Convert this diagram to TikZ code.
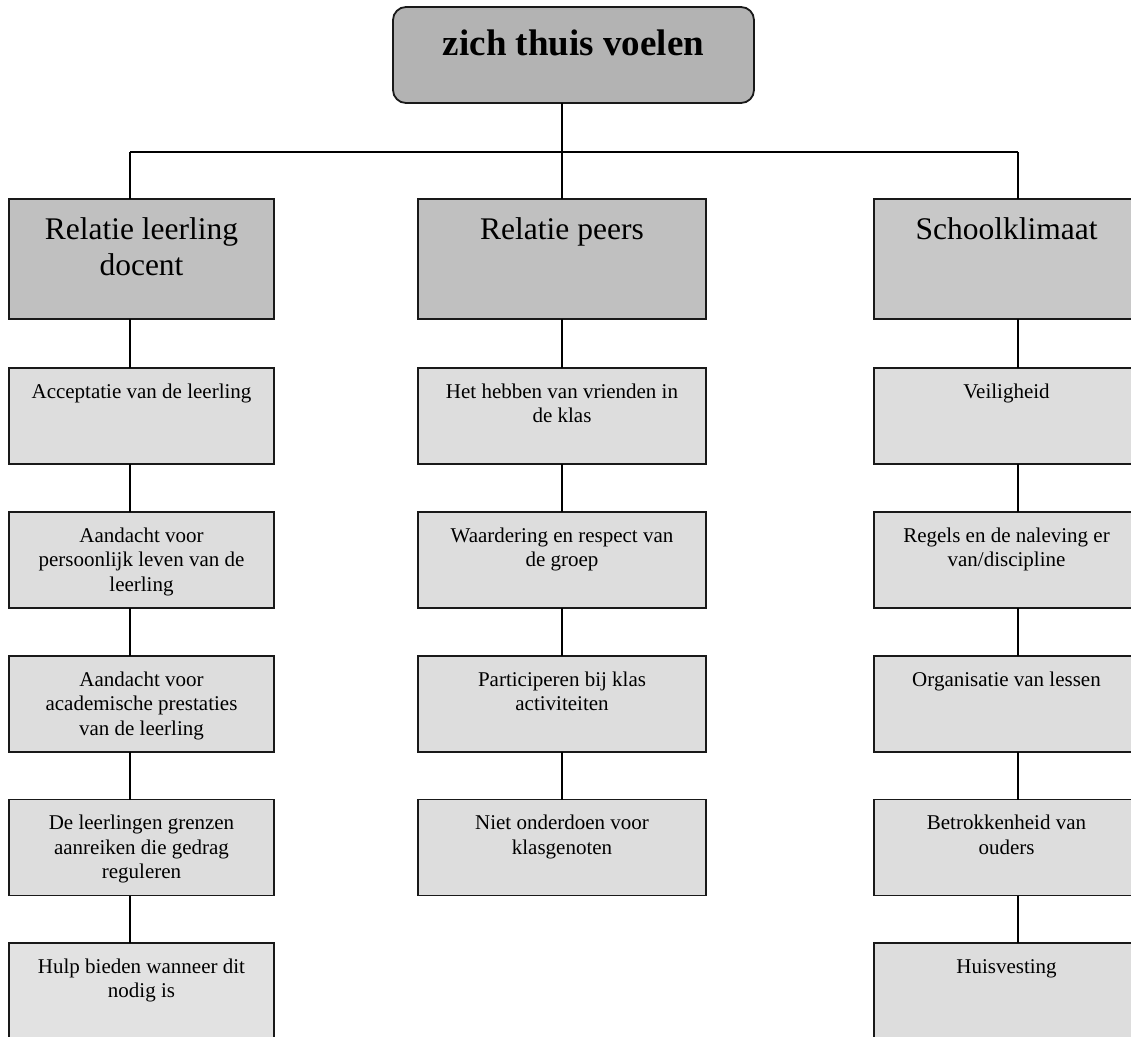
\documentclass[tikz,border=0pt]{standalone}
\usepackage{fontspec}
\setmainfont{Liberation Serif}
\definecolor{topgray}{HTML}{B3B3B3}
\definecolor{catgray}{HTML}{C0C0C0}
\definecolor{catgrayb}{HTML}{C8C8C8}
\definecolor{itemgray}{HTML}{DDDDDD}
\definecolor{itemgrayb}{HTML}{E2E2E2}
\begin{document}
\begin{tikzpicture}[x=1pt,y=-1pt,
  every node/.style={inner sep=0pt, outer sep=0pt},
  frame/.style={draw=black!90, line width=1.8pt},
  topbox/.style={frame, fill=topgray, rounded corners=13pt, minimum width=361pt, minimum height=96pt},
  catbox/.style={frame, fill=catgray, minimum height=120pt},
  itembox/.style={frame, fill=itemgray, minimum height=96pt},
  wl/.style={minimum width=265pt},
  wm/.style={minimum width=288pt},
  toptext/.style={anchor=north, align=center, font=\fontsize{37}{44}\selectfont\bfseries, yshift=-17.2pt},
  cattext/.style={anchor=north, align=center, font=\fontsize{31.5}{36}\selectfont, yshift=-14.8pt},
  itemtext/.style={anchor=north, align=center, font=\fontsize{21}{24.5}\selectfont, yshift=-12.85pt},
  link/.style={draw=black, line width=1.8pt}
]
\useasboundingbox (0,0) rectangle (1131,1036);

% axis coordinates for connectors
\coordinate (lx) at (130,0);
\coordinate (mx) at (562,0);
\coordinate (rx) at (1018,0);
\coordinate (bar) at (0,152);

% top
\node[topbox] (top) at (573.5,55) {};
\node[toptext] (topt) at (top.north) {\strut zich thuis voelen};

% categories
\node[catbox, wl] (c1) at (141.5,259) {};
\node[cattext] (c1t) at (c1.north) {\strut Relatie leerling\\docent};
\node[catbox, wm] (c2) at (562,259) {};
\node[cattext] (c2t) at (c2.north) {\strut Relatie peers};
\node[catbox, wl, fill=catgrayb] (c3) at (1006.5,259) {};
\node[cattext] (c3t) at (c3.north) {\strut Schoolklimaat};

% left column
\node[itembox, wl] (l1) at (141.5,416) {};
\node[itemtext] (l1t) at (l1.north) {\strut Acceptatie van de leerling};
\node[itembox, wl] (l2) at (141.5,560) {};
\node[itemtext] (l2t) at (l2.north) {\strut Aandacht voor\\persoonlijk leven van de\\leerling};
\node[itembox, wl] (l3) at (141.5,704) {};
\node[itemtext] (l3t) at (l3.north) {\strut Aandacht voor\\academische prestaties\\van de leerling};
\node[itembox, wl] (l4) at (141.5,847.5) {};
\node[itemtext] (l4t) at (l4.north) {\strut De leerlingen grenzen\\aanreiken die gedrag\\reguleren};
\node[itembox, wl, fill=itemgrayb] (l5) at (141.5,991) {};
\node[itemtext] (l5t) at (l5.north) {\strut Hulp bieden wanneer dit\\nodig is};

% middle column
\node[itembox, wm] (m1) at (562,416) {};
\node[itemtext] (m1t) at (m1.north) {\strut Het hebben van vrienden in\\de klas};
\node[itembox, wm] (m2) at (562,560) {};
\node[itemtext] (m2t) at (m2.north) {\strut Waardering en respect van\\de groep};
\node[itembox, wm] (m3) at (562,704) {};
\node[itemtext] (m3t) at (m3.north) {\strut Participeren bij klas\\activiteiten};
\node[itembox, wm] (m4) at (562,847.5) {};
\node[itemtext] (m4t) at (m4.north) {\strut Niet onderdoen voor\\klasgenoten};

% right column
\node[itembox, wl] (r1) at (1006.5,416) {};
\node[itemtext] (r1t) at (r1.north) {\strut Veiligheid};
\node[itembox, wl] (r2) at (1006.5,560) {};
\node[itemtext] (r2t) at (r2.north) {\strut Regels en de naleving er\\van/discipline};
\node[itembox, wl] (r3) at (1006.5,704) {};
\node[itemtext] (r3t) at (r3.north) {\strut Organisatie van lessen};
\node[itembox, wl] (r4) at (1006.5,847.5) {};
\node[itemtext] (r4t) at (r4.north) {\strut Betrokkenheid van\\ouders};
\node[itembox, wl] (r5) at (1006.5,991) {};
\node[itemtext] (r5t) at (r5.north) {\strut Huisvesting};

% connectors
\draw[link] (top.south -| mx) -- (bar -| mx);
\draw[link] (bar -| lx) -- (bar -| rx);
\draw[link] (bar -| lx) -- (c1.north -| lx);
\draw[link] (bar -| mx) -- (c2.north -| mx);
\draw[link] (bar -| rx) -- (c3.north -| rx);

\draw[link] (c1.south -| lx) -- (l1.north -| lx);
\draw[link] (l1.south -| lx) -- (l2.north -| lx);
\draw[link] (l2.south -| lx) -- (l3.north -| lx);
\draw[link] (l3.south -| lx) -- (l4.north -| lx);
\draw[link] (l4.south -| lx) -- (l5.north -| lx);

\draw[link] (c2.south -| mx) -- (m1.north -| mx);
\draw[link] (m1.south -| mx) -- (m2.north -| mx);
\draw[link] (m2.south -| mx) -- (m3.north -| mx);
\draw[link] (m3.south -| mx) -- (m4.north -| mx);

\draw[link] (c3.south -| rx) -- (r1.north -| rx);
\draw[link] (r1.south -| rx) -- (r2.north -| rx);
\draw[link] (r2.south -| rx) -- (r3.north -| rx);
\draw[link] (r3.south -| rx) -- (r4.north -| rx);
\draw[link] (r4.south -| rx) -- (r5.north -| rx);
\end{tikzpicture}
\end{document}
